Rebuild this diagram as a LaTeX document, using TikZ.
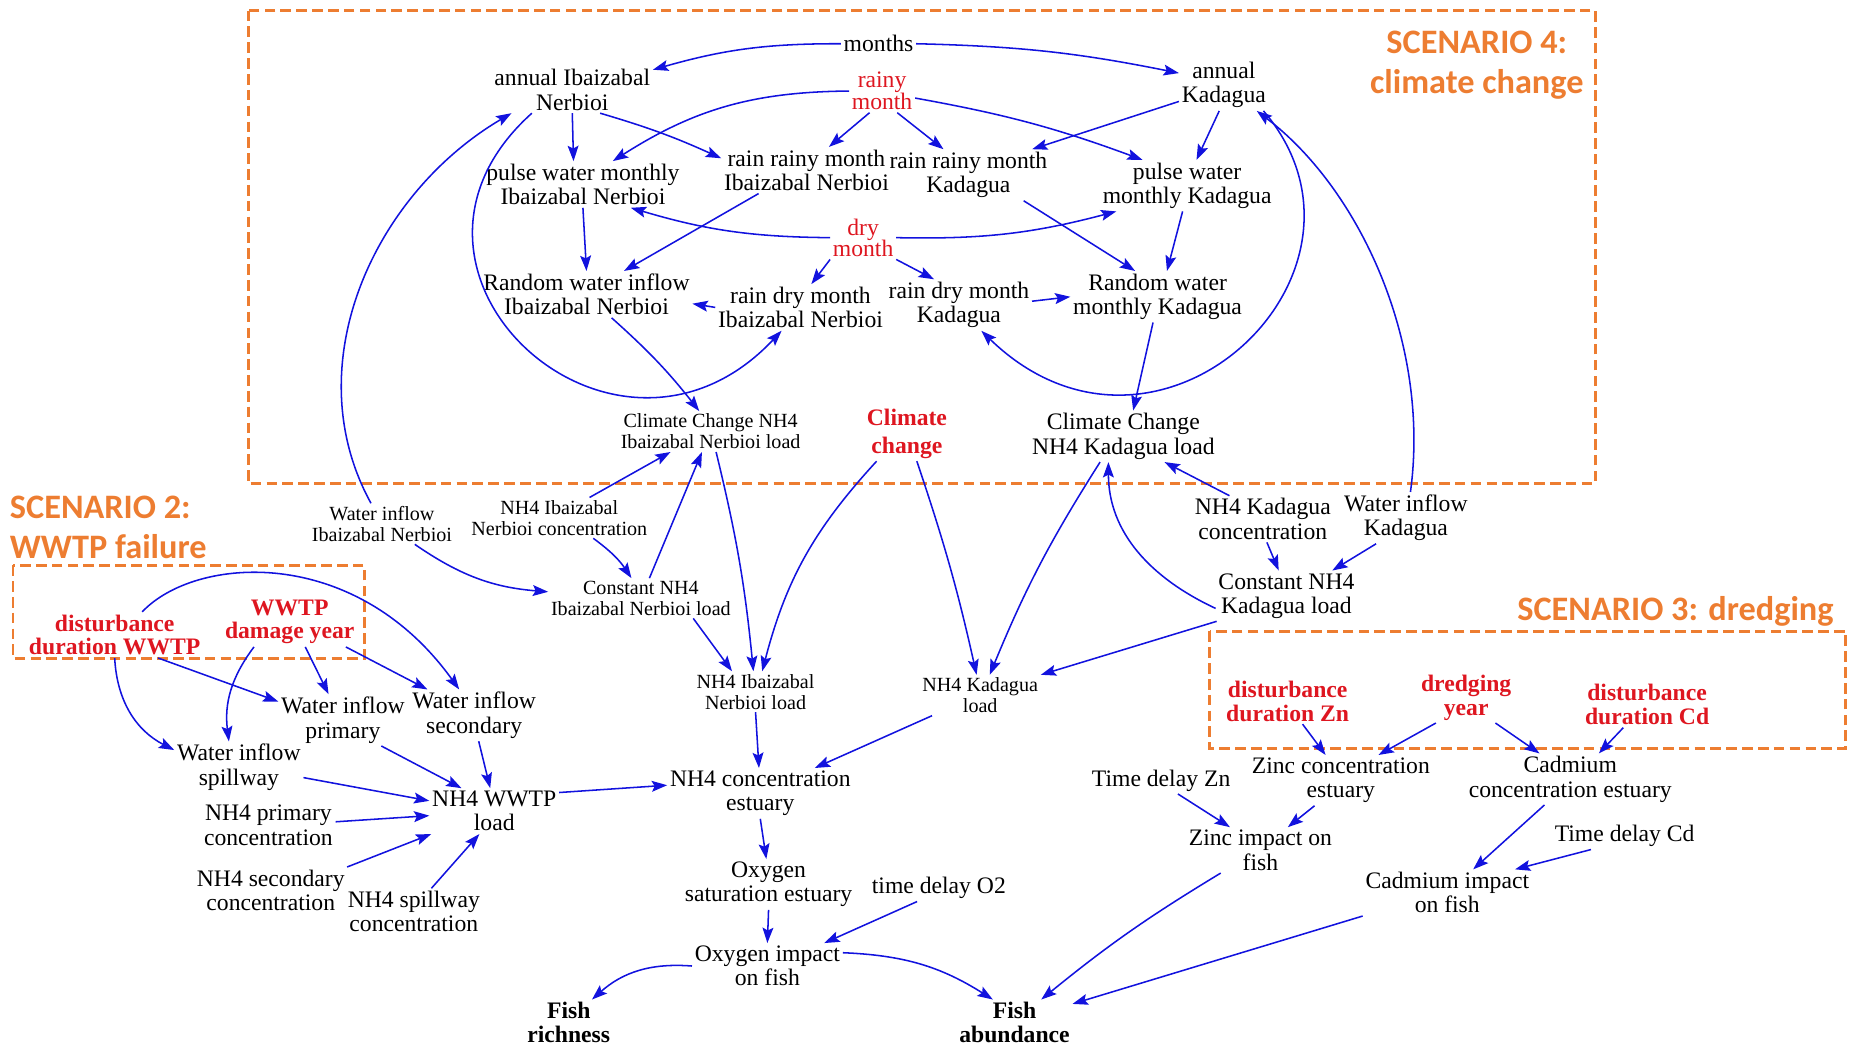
\documentclass[tikz,border=0pt]{standalone}
\usepackage{fontspec}
\setmainfont{Liberation Serif}
\newfontfamily\calibri{Carlito}
\usetikzlibrary{arrows.meta}
\definecolor{arrowblue}{RGB}{18,18,222}
\definecolor{labred}{RGB}{222,22,32}
\definecolor{scorange}{RGB}{237,125,49}
\newcommand\tightlines{\lineskiplimit -10pt\relax}
\begin{document}
\begin{tikzpicture}[x=0.5pt,y=-0.5pt,
  every node/.style={inner sep=1pt,align=center},
  lab/.style={font=\fontsize{10}{10.3}\selectfont},
  sml/.style={font=\fontsize{8.5}{8.9}\selectfont},
  redlab/.style={text=labred,font=\fontsize{10}{9.2}\selectfont},
  redbold/.style={text=labred,font=\fontsize{10}{10}\selectfont\bfseries},
  boldlab/.style={font=\fontsize{10}{10.2}\selectfont\bfseries},
  arr/.style={draw=arrowblue,line width=0.65pt,-{Stealth[length=6.5pt,width=4.6pt,inset=1.2pt]}},
  scenbox/.style={draw=scorange,line width=1.25pt,dash pattern=on 4.5pt off 2.2pt},
  scenlab/.style={text=scorange,inner sep=0pt,font=\calibri\bfseries\fontsize{14.5}{17}\selectfont}]

\useasboundingbox (0,0) rectangle (1568,886);

% scenario frames and titles
\draw[scenbox] (210,9) rectangle (1349,409);
\draw[scenbox] (11,478) rectangle (308,557);
\draw[scenbox] (1023,534) rectangle (1561,633);

\node[scenlab] (s4) at (1249,55) {SCENARIO 4:\\climate change};
\node[scenlab,anchor=west,align=left] (s2) at (8,446) {SCENARIO 2:\\WWTP failure};
\node[scenlab] (s3) at (1417,517) {SCENARIO 3: dredging};

% climate change block
\node[lab] (months) at (743,37) {months};
\node[lab] (annI) at (484,76) {annual Ibaizabal\\Nerbioi};
\node[redlab] (rainy) at (746,77) {rainy\\month};
\node[lab] (annK) at (1035,72) {annual\\Kadagua};
\node[lab] (pulseI) at (493,156) {pulse water monthly\\Ibaizabal Nerbioi};
\node[lab] (rainRI) at (682,144) {rain rainy month\\Ibaizabal Nerbioi};
\node[lab] (rainRK) at (819,148) {rain rainy month\\Kadagua};
\node[lab] (pulseK) at (1004,157) {pulse water\\monthly Kadagua};
\node[redlab,font=\fontsize{10}{9}\selectfont\tightlines] (dry) at (730,201) {dry\\month};
\node[lab] (randI) at (496,249) {Random water inflow\\Ibaizabal Nerbioi};
\node[lab] (rainDI) at (677,260) {rain dry month\\Ibaizabal Nerbioi};
\node[lab] (rainDK) at (811,258) {rain dry month\\Kadagua};
\node[lab] (randK) at (979,251) {Random water\\monthly Kadagua};
\node[sml] (ccI) at (601,365) {Climate Change NH4\\Ibaizabal Nerbioi load};
\node[redbold,font=\fontsize{10}{11.5}\selectfont\bfseries] (cc) at (767,367) {Climate\\change};
\node[lab] (ccK) at (950,369) {Climate Change\\NH4 Kadagua load};

% river inputs
\node[sml] (winI) at (323,443) {Water inflow\\Ibaizabal Nerbioi};
\node[sml] (concI) at (473,438) {NH4 Ibaizabal\\Nerbioi concentration};
\node[lab] (concK) at (1068,439) {NH4 Kadagua\\concentration};
\node[lab] (winK) at (1189,438) {Water inflow\\Kadagua};
\node[sml] (constI) at (542,506) {Constant NH4\\Ibaizabal Nerbioi load};
\node[lab] (constK) at (1088,504) {Constant NH4\\Kadagua load};
\node[sml] (loadI) at (639,585) {NH4 Ibaizabal\\Nerbioi load};
\node[sml] (loadK) at (829,588) {NH4 Kadagua\\load};

% estuary and fish
\node[lab] (nh4est) at (643,671) {NH4 concentration\\estuary};
\node[lab] (oxsat) at (650,748) {Oxygen\\saturation estuary};
\node[lab] (tdO) at (794,751) {time delay O2};
\node[lab] (oximp) at (649,817) {Oxygen impact\\on fish};
\node[boldlab] (rich) at (481,865) {Fish\\richness};
\node[boldlab] (abund) at (858,865) {Fish\\abundance};

% WWTP failure
\node[redbold] (ddW) at (97,537) {disturbance\\duration WWTP};
\node[redbold] (dyW) at (245,526) {WWTP\\damage year};
\node[lab] (wprim) at (290,609) {Water inflow\\primary};
\node[lab] (wsec) at (401,605) {Water inflow\\secondary};
\node[lab] (wspill) at (202,649) {Water inflow\\spillway};
\node[lab] (wwtp) at (418,686) {NH4 WWTP\\load};
\node[lab] (pconc) at (227,698) {NH4 primary\\concentration};
\node[lab] (sconc) at (229,753) {NH4 secondary\\concentration};
\node[lab] (spconc) at (350,771) {NH4 spillway\\concentration};

% dredging
\node[redbold] (ddZn) at (1089,593) {disturbance\\duration Zn};
\node[redbold] (dredge) at (1240,590) {dredging\\year};
\node[redbold] (ddCd) at (1393,596) {disturbance\\duration Cd};
\node[lab] (znconc) at (1134,660) {Zinc concentration\\estuary};
\node[lab] (cdconc) at (1328,659) {Cadmium\\concentration estuary};
\node[lab] (tdZn) at (982,660) {Time delay Zn};
\node[lab] (znimp) at (1066,719) {Zinc impact on\\fish};
\node[lab] (tdCd) at (1374,707) {Time delay Cd};
\node[lab] (cdimp) at (1224,755) {Cadmium impact\\on fish};

% links: rainfall and river flows
\draw[arr] (months.west) to[bend right=8] (annI.14);
\draw[arr] (months.east) to[bend left=5] (annK.165);
\draw[arr] (rainy.west) to[bend right=16] (pulseI.38);
\draw[arr] (rainy.-120) -- (rainRI.46);
\draw[arr] (rainy.-55) -- (rainRK.134);
\draw[arr] (rainy.-12) to[bend left=5] (pulseK.150);
\draw[arr] (annI.south) -- (pulseI.112);
\draw[arr] (annI.-40) to[bend left=4] (rainRI.172);
\draw[arr] (annI.210) .. controls (300,230) and (520,430) .. (rainDI.231);
\draw[arr] (winI.118) .. controls (250,310) and (315,165) .. (annI.201);
\draw[arr] (annK.200) -- (rainRK.22);
\draw[arr] (annK.-100) -- (pulseK.70);
\draw[arr] (annK.-33) .. controls (1185,230) and (980,425) .. (rainDK.-49);
\draw[arr] (winK.80) .. controls (1210,290) and (1150,160) .. (annK.-38);
\draw[arr] (dry.west) to[bend left=8] (pulseI.-26);
\draw[arr] (dry.east) to[bend right=8] (pulseK.200);
\draw[arr] (dry.south west) -- (rainDI.65);
\draw[arr] (dry.south east) -- (rainDK.134);
\draw[arr] (rainRI.206) -- (randI.32);
\draw[arr] (pulseI.south) -- (randI.north);
\draw[arr] (rainDI.west) -- (randI.-5);
\draw[arr] (rainRK.-25) -- (randK.131);
\draw[arr] (pulseK.-100) -- (randK.70);
\draw[arr] (rainDK.3) -- (randK.west);
\draw[arr] (randI.-43) to[bend left=5] (ccI.119);
\draw[arr] (randK.-100) -- (ccK.69);

% links: NH4 loads
\draw[arr] (concI.34) -- (ccI.207);
\draw[arr] (constI.67) -- (ccI.247);
\draw[arr] (concI.-31) to[bend left=10] (constI.115);
\draw[arr] (winI.-32) to[bend right=15] (constI.176);
\draw[arr] (concK.145) -- (ccK.-32);
\draw[arr] (constK.190) to[out=155,in=-90] (ccK.-120);
\draw[arr] (concK.-80) -- (constK.107);
\draw[arr] (winK.221) -- (constK.29);
\draw[arr] (ccI.-75) to[bend left=4] (loadI.96);
\draw[arr] (constI.-21) -- (loadI.139);
\draw[arr] (cc.222) to[bend right=14] (loadI.72);
\draw[arr] (cc.-70) to[bend left=3] (loadK.100);
\draw[arr] (ccK.228) to[bend right=5] (loadK.65);
\draw[arr] (constK.200) -- (loadK.north east);
\draw[arr] (loadI.south) -- (nh4est.93);
\draw[arr] (loadK.203) -- (nh4est.25);
\draw[arr] (wwtp.16) -- (nh4est.175);
\draw[arr] (nh4est.south) -- (oxsat.95);
\draw[arr] (oxsat.south) -- (oximp.north);
\draw[arr] (tdO.212) -- (oximp.22);
\draw[arr] (oximp.west) to[bend right=23] (rich.45);
\draw[arr] (oximp.10) to[bend left=15] (abund.133);
\draw[arr] (znimp.210) to[bend right=4] (abund.41);
\draw[arr] (cdimp.south west) -- (abund.18);

% links: WWTP failure
\draw[arr] (ddW.40) .. controls (165,470) and (300,460) .. (wsec.120);
\draw[arr] (ddW.-28) -- (wprim.164);
\draw[arr] (ddW.south) to[bend right=30] (wspill.165);
\draw[arr] (dyW.-24) -- (wsec.151);
\draw[arr] (dyW.-58) -- (wprim.119);
\draw[arr] (dyW.215) to[bend right=22] (wspill.111);
\draw[arr] (wprim.-34) -- (wwtp.145);
\draw[arr] (wsec.-80) -- (wwtp.100);
\draw[arr] (wspill.-9) -- (wwtp.171);
\draw[arr] (pconc.3) -- (wwtp.184);
\draw[arr] (sconc.17) -- (wwtp.200);
\draw[arr] (spconc.53) -- (wwtp.-123);

% links: dredging
\draw[arr] (ddZn.-57) -- (znconc.121);
\draw[arr] (dredge.220) -- (znconc.34);
\draw[arr] (dredge.-41) -- (cdconc.140);
\draw[arr] (ddCd.224) -- (cdconc.42);
\draw[arr] (tdZn.-39) -- (znimp.143);
\draw[arr] (znconc.224) -- (znimp.40);
\draw[arr] (cdconc.225) -- (cdimp.42);
\draw[arr] (tdCd.202) -- (cdimp.19);
\end{tikzpicture}
\end{document}
